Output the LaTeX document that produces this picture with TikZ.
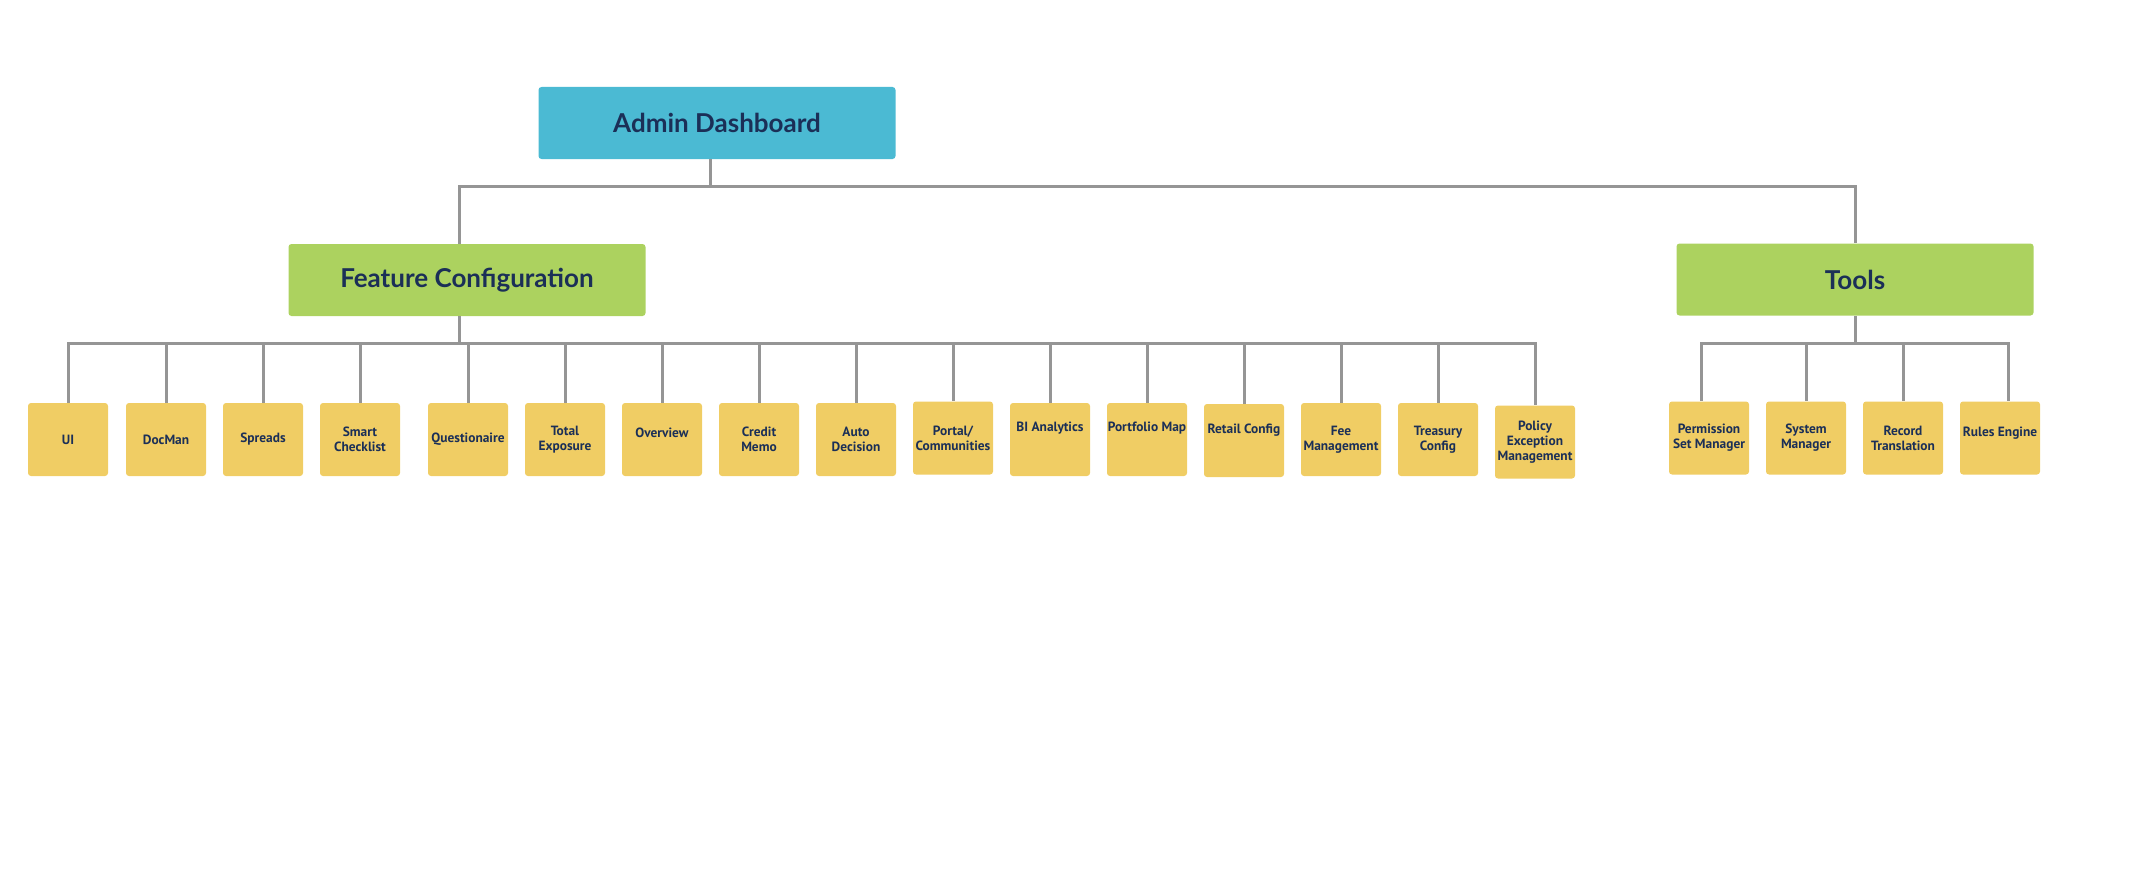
\documentclass[tikz,border=0pt]{standalone}
\usepackage{fontspec}
\setmainfont{PT Sans}
\newfontfamily\headfont{Lato}
\definecolor{adminblue}{HTML}{4BBAD3}
\definecolor{featgreen}{HTML}{ACD25F}
\definecolor{leafyellow}{HTML}{F0CD64}
\definecolor{navy}{HTML}{1B2F57}
\definecolor{linegray}{HTML}{959595}
\begin{document}
\begin{tikzpicture}[x=0.5pt,y=-0.5pt,
 head/.style={rounded corners=1.5pt,minimum width=178.5pt,minimum height=36pt,inner sep=0pt,
  text=navy,font=\headfont\bfseries\fontsize{13}{15}\selectfont},
 leaf/.style={fill=leafyellow,rounded corners=1.5pt,minimum width=40pt,minimum height=36.5pt,
  inner sep=0pt,align=center,text=navy,font=\bfseries\fontsize{6.7}{7.5}\selectfont},
 lift/.style={text depth=#1},
 link/.style={draw=linegray,line width=1.5pt}
]
 \useasboundingbox (0,0) rectangle (2135,872);
 \node[head,fill=adminblue] (admin) at (717,123) {Admin Dashboard};
 \node[head,fill=featgreen] (fc) at (467,280) {Feature Configuration};
 \node[head,fill=featgreen] (tools) at (1855,279.5) {Tools};
 \coordinate (topbar) at (0,186.5);
 \coordinate (lowbar) at (0,343);
 % feature configuration leaves
 \node[leaf] (ui) at (68,439.5) {UI};
 \node[leaf] (docman) at (166,439.5) {DocMan};
 \node[leaf] (spreads) at (263,439.5) {Spreads};
 \node[leaf] (smart) at (360,439.5) {Smart\\Checklist};
 \node[leaf] (quest) at (468,439.5) {Questionaire};
 \node[leaf] (total) at (565,439.5) {Total\\Exposure};
 \node[leaf,lift=6.5pt] (overview) at (662,439.5) {Overview};
 \node[leaf] (credit) at (759,439.5) {Credit\\Memo};
 \node[leaf] (auto) at (856,439.5) {Auto\\Decision};
 \node[leaf] (portal) at (953,438) {Portal/\\Communities};
 \node[leaf,lift=12.5pt] (bi) at (1050,439.5) {BI Analytics};
 \node[leaf,lift=12.5pt] (portfolio) at (1147,439.5) {Portfolio Map};
 \node[leaf,lift=12pt] (retail) at (1244,440.5) {Retail Config};
 \node[leaf] (fee) at (1341,439.5) {Fee\\Management};
 \node[leaf] (treasury) at (1438,439.5) {Treasury\\Config};
 \node[leaf] (policy) at (1535,442) {Policy\\Exception\\Management};
 % tools leaves
 \node[leaf] (perm) at (1709,438) {Permission\\Set Manager};
 \node[leaf] (system) at (1806,438) {System\\Manager};
 \node[leaf] (record) at (1903,438) {Record\\Translation};
 \node[leaf,lift=6pt] (rules) at (2000,438) {Rules Engine};
 % connectors
 \draw[link] ([xshift=-3.5pt]admin.south) -- ([xshift=-3.5pt]admin.south |- topbar)
  -| ([xshift=-4pt]fc.north);
 \draw[link] ([xshift=-3.5pt]admin.south |- topbar) -| (tools.north);
 \draw[link] ([xshift=-4pt]fc.south) -- ([xshift=-4pt]fc.south |- lowbar) -| (ui.north);
 \draw[link] (fc.south |- lowbar) -| (docman.north);
 \draw[link] (fc.south |- lowbar) -| (spreads.north);
 \draw[link] (fc.south |- lowbar) -| (smart.north);
 \draw[link] (fc.south |- lowbar) -| (quest.north);
 \draw[link] (fc.south |- lowbar) -| (total.north);
 \draw[link] (fc.south |- lowbar) -| (overview.north);
 \draw[link] (fc.south |- lowbar) -| (credit.north);
 \draw[link] (fc.south |- lowbar) -| (auto.north);
 \draw[link] (fc.south |- lowbar) -| (portal.north);
 \draw[link] (fc.south |- lowbar) -| (bi.north);
 \draw[link] (fc.south |- lowbar) -| (portfolio.north);
 \draw[link] (fc.south |- lowbar) -| (retail.north);
 \draw[link] (fc.south |- lowbar) -| (fee.north);
 \draw[link] (fc.south |- lowbar) -| (treasury.north);
 \draw[link] (fc.south |- lowbar) -| (policy.north);
 \draw[link] (tools.south) -- (tools.south |- lowbar) -| ([xshift=-4pt]perm.north);
 \draw[link] (tools.south |- lowbar) -| (system.north);
 \draw[link] (tools.south |- lowbar) -| (record.north);
 \draw[link] (tools.south |- lowbar) -| ([xshift=4pt]rules.north);
\end{tikzpicture}
\end{document}
